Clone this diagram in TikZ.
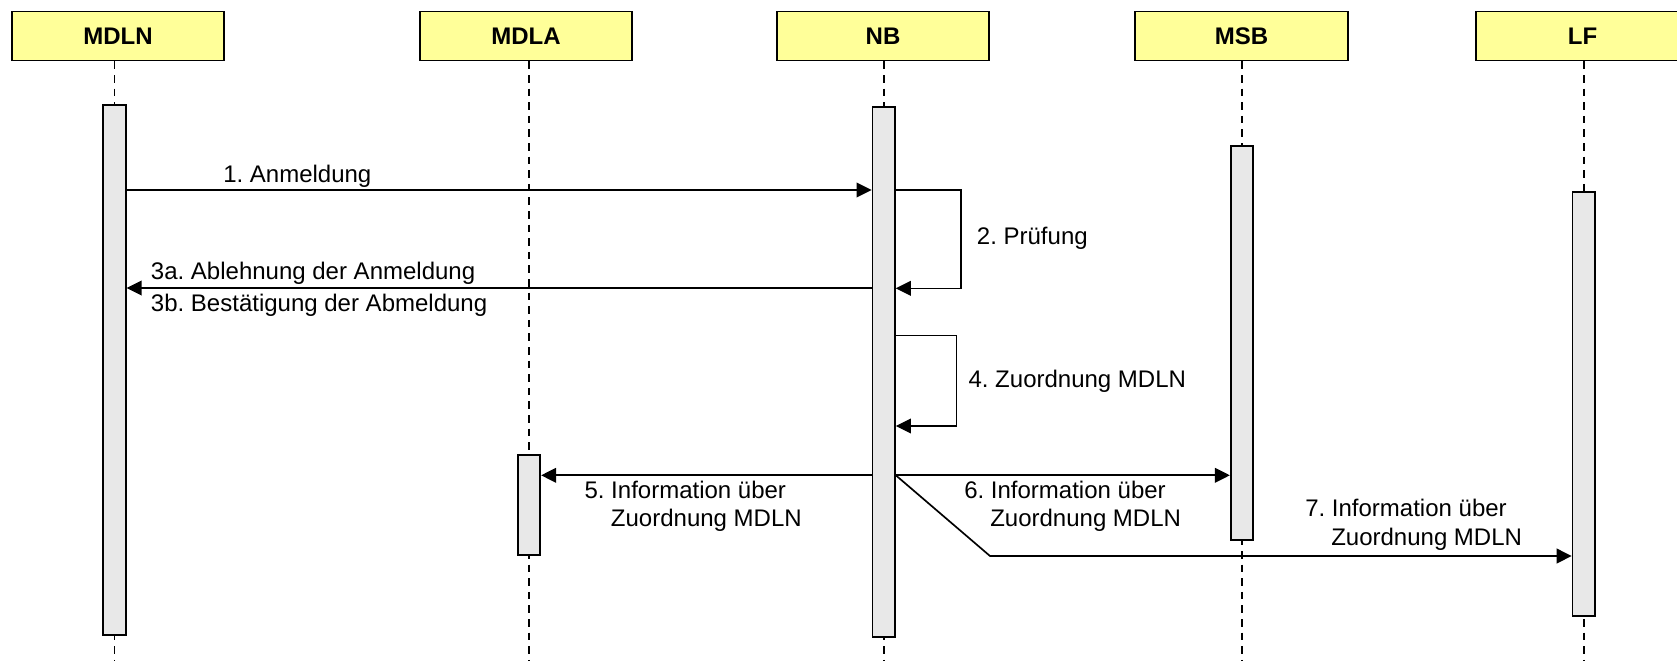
\documentclass[tikz,border=0pt]{standalone}
\usepackage{fontspec}
\setmainfont{Liberation Sans}
\usetikzlibrary{arrows.meta,calc}
\definecolor{hdrfill}{RGB}{255,255,153}
\definecolor{barfill}{RGB}{232,232,232}
\frenchspacing
\begin{document}
\begin{tikzpicture}[x=0.75pt,y=-0.75pt,
  hdr/.style={draw=black, line width=1.4pt, fill=hdrfill, minimum width={212.5*0.75pt},
    minimum height={49*0.75pt}, inner sep=0pt, font=\fontsize{18}{21}\selectfont\bfseries},
  actbar/.style={draw=black, line width=1.3pt, fill=barfill, minimum width={22.5*0.75pt}, inner sep=0pt},
  life/.style={line width=1.2pt, dash pattern=on 5.6pt off 4.6pt},
  msg/.style={line width=1.25pt, -{Triangle[length=11.25pt,width=11pt]}},
  selfmsg/.style={line width=1.05pt, -{Triangle[length=11.25pt,width=11pt]}},
  lbl/.style={inner sep=0pt, anchor=base west, font=\fontsize{18}{21}\selectfont}
]
\useasboundingbox (0,0) rectangle (1677,661);
\fill[white] (0,0) rectangle (1677,661);
\clip (0,0) rectangle (1677,661);

% lifeline x positions and bottom
\coordinate (xMDLN) at (114.5,0);
\coordinate (xMDLA) at (529,0);
\coordinate (xNB) at (883.7,0);
\coordinate (xMSB) at (1242,0);
\coordinate (xLF) at (1583.8,0);
\coordinate (bottom) at (0,661);

% headers
\node[hdr] (hMDLN) at (118,36) {MDLN};
\node[hdr] (hMDLA) at (526,36) {MDLA};
\node[hdr] (hNB) at (883,36) {NB};
\node[hdr] (hMSB) at (1241.5,36) {MSB};
\node[hdr] (hLF) at (1582.5,36) {LF};

% lifelines
\draw[life] (xMDLN |- hMDLN.south) -- (xMDLN |- bottom);
\draw[life] (xMDLA |- hMDLA.south) -- (xMDLA |- bottom);
\draw[life] (xNB |- hNB.south) -- (xNB |- bottom);
\draw[life] (xMSB |- hMSB.south) -- (xMSB |- bottom);
\draw[life] (xLF |- hLF.south) -- (xLF |- bottom);

% activation bars
\node[actbar, minimum height={530*0.75pt}] (barMDLN) at (114.5,370) {};
\node[actbar, minimum height={100*0.75pt}] (barMDLA) at (529,505.3) {};
\node[actbar, minimum height={530*0.75pt}] (barNB) at (883.7,371.7) {};
\node[actbar, minimum height={394*0.75pt}] (barMSB) at (1242,343) {};
\node[actbar, minimum height={424.3*0.75pt}] (barLF) at (1583.8,403.85) {};

% message levels
\coordinate (y1) at (0,190);
\coordinate (c2a) at (961,190);
\coordinate (c2b) at (961,288.3);
\coordinate (y3) at (0,288);
\coordinate (c4a) at (956.7,335.7);
\coordinate (c4b) at (956.7,426);
\coordinate (y5) at (0,475.3);
\coordinate (c7) at (990,556);

% messages
\draw[msg] (barMDLN.east |- y1) -- (barNB.west |- y1);
\draw[selfmsg] (barNB.east |- c2a) -- (c2a) -- (c2b) -- (barNB.east |- c2b);
\draw[msg] (barNB.west |- y3) -- (barMDLN.east |- y3);
\draw[selfmsg] (barNB.east |- c4a) -- (c4a) -- (c4b) -- (barNB.east |- c4b);
\draw[msg] (barNB.west |- y5) -- (barMDLA.east |- y5);
\draw[msg] (barNB.east |- y5) -- (barMSB.west |- y5);
\draw[msg] (barNB.east |- y5) -- (c7) -- (barLF.west |- c7);

% labels
\node[lbl] (l1) at (223,182.7) {1. Anmeldung};
\node[lbl] (l2) at (976.7,244.3) {2. Prüfung};
\node[lbl] (l3a) at (150.7,279) {3a. Ablehnung der Anmeldung};
\node[lbl] (l3b) at (150.7,311) {3b. Bestätigung der Abmeldung};
\node[lbl] (l4) at (968.3,387.3) {4. Zuordnung MDLN};
\node[lbl] (l5a) at (584.3,498.3) {5. Information über};
\node[lbl] (l5b) at (610.7,526) {Zuordnung MDLN};
\node[lbl] (l6a) at (964,498.3) {6. Information über};
\node[lbl] (l6b) at (990,526) {Zuordnung MDLN};
\node[lbl] (l7a) at (1305,516.7) {7. Information über};
\node[lbl] (l7b) at (1331,545) {Zuordnung MDLN};
\end{tikzpicture}
\end{document}
